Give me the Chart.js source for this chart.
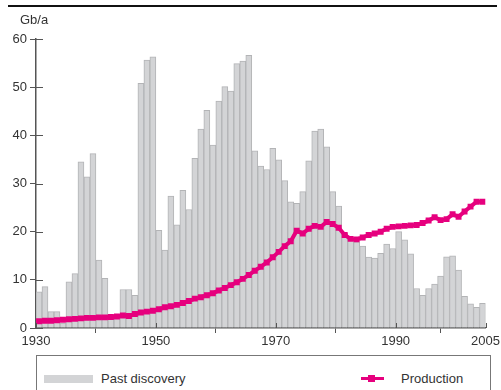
<!DOCTYPE html>
<html>
<head>
<meta charset="utf-8">
<script src="https://cdn.jsdelivr.net/npm/chart.js@4.4.1/dist/chart.umd.min.js"></script>
<style>
  body { margin: 0; background: #fff; font-family: "Liberation Sans", Arial, sans-serif; color: #333; }
  #wrap { position: relative; width: 501px; height: 390px; overflow: hidden; }
  #rule { position: absolute; left: 8px; top: 5px; width: 489px; height: 2px; background: #111; }
  #unit { position: absolute; left: 20px; top: 12px; font-size: 13px; color: #333; }
  #chartBox { position: absolute; left: 0; top: 0; width: 501px; height: 352px; }
  #legend { position: absolute; left: 36px; top: 355px; width: 455px; height: 40px; border: 1px solid #777; box-sizing: border-box; }
  .sw-bar { position: absolute; left: 7px; top: 19px; width: 49px; height: 8px; background: #d3d4d6; }
  .sw-line { position: absolute; left: 324px; top: 21px; width: 23px; height: 3px; background: #e6007e; }
  .sw-pt { position: absolute; left: 331px; top: 19px; width: 7px; height: 7px; background: #e6007e; }
  .lbl { position: absolute; top: 15px; font-size: 13px; color: #333; }
</style>
</head>
<body>
<div id="wrap">
  <div id="rule"></div>
  <div id="chartBox"><canvas id="oilChart" width="501" height="352"></canvas></div>
  <div id="unit">Gb/a</div>
  <div id="legend">
    <div class="sw-bar"></div><div class="lbl" style="left:64px">Past discovery</div>
    <div class="sw-line"></div><div class="sw-pt"></div><div class="lbl" style="left:364px">Production</div>
  </div>
</div>
<script>
  // years 1930 .. 2004, one bar / point per year
  const startYear = 1930;
  const discovery = [
    7.5, 8.6, 3.4, 3.4, 1.0, 9.6, 11.3, 34.5, 31.4, 36.2,
    14.1, 10.3, 2.0, 2.0, 8.0, 8.0, 6.8, 50.8, 55.6, 56.3,
    20.3, 16.2, 27.4, 21.4, 28.6, 24.6, 35.2, 41.3, 45.2, 38.0,
    47.1, 50.1, 49.2, 54.9, 55.4, 56.6, 36.8, 33.6, 32.9, 37.3,
    34.9, 30.6, 26.2, 25.9, 28.3, 34.7, 40.9, 41.3, 37.6, 28.3,
    25.3, 19.7, 18.3, 17.9, 17.0, 14.7, 14.5, 15.5, 17.4, 16.5,
    20.0, 18.3, 15.4, 8.2, 6.8, 8.2, 9.1, 10.8, 14.8, 15.0,
    12.0, 6.6, 5.0, 4.3, 5.1
  ];
  const production = [
    1.4, 1.5, 1.5, 1.6, 1.7, 1.8, 1.9, 2.0, 2.1, 2.1,
    2.2, 2.2, 2.3, 2.4, 2.6, 2.5, 2.9, 3.2, 3.4, 3.6,
    3.9, 4.3, 4.5, 4.8, 5.2, 5.6, 6.1, 6.4, 6.8, 7.2,
    7.8, 8.3, 8.9, 9.5, 10.2, 11.0, 11.9, 12.7, 13.6, 14.7,
    15.8, 17.0, 18.0, 20.2, 19.6, 20.6, 21.2, 21.0, 22.0, 21.6,
    20.8, 19.3, 18.5, 18.4, 18.8, 19.3, 19.6, 20.0, 20.6, 21.0,
    21.1, 21.2, 21.3, 21.4, 21.8, 22.3, 23.0, 22.4, 22.6, 23.6,
    23.1, 24.2, 25.2, 26.2, 26.2
  ];
  const xTickYears = [1930, 1950, 1970, 1990, 2005];
  const yMax = 60;
  const yStep = 10;

  const axisColor = "#555";
  const textColor = "#333";

  // bars sit between year Y and Y+1
  const discoveryPts = discovery.map((v, i) => ({ x: startYear + i + 0.5, y: v }));
  const productionPts = production.map((v, i) => ({ x: startYear + i + 0.5, y: v }));

  // short tick marks on the inner side of both axes
  const innerTicks = {
    id: "innerTicks",
    afterDraw(chart) {
      const ctx = chart.ctx;
      const xs = chart.scales.x, ys = chart.scales.y;
      ctx.save();
      ctx.strokeStyle = axisColor;
      ctx.lineWidth = 1;
      ys.ticks.forEach((t) => {
        const py = Math.round(ys.getPixelForValue(t.value)) + 0.5;
        ctx.beginPath();
        ctx.moveTo(xs.left, py);
        ctx.lineTo(xs.left + 7, py);
        ctx.stroke();
      });
      xs.ticks.forEach((t) => {
        const px = Math.round(xs.getPixelForValue(t.value)) + 0.5;
        ctx.beginPath();
        ctx.moveTo(px, ys.bottom);
        ctx.lineTo(px, ys.bottom - 5);
        ctx.stroke();
      });
      ctx.restore();
    },
  };

  new Chart(document.getElementById("oilChart"), {
    type: "bar",
    data: {
      datasets: [
        {
          type: "line",
          label: "Production",
          data: productionPts,
          borderColor: "#e6007e",
          backgroundColor: "#e6007e",
          borderWidth: 4,
          pointStyle: "rect",
          pointRadius: 4.2,
          pointBorderWidth: 0,
          tension: 0,
          order: 0,
        },
        {
          label: "Past discovery",
          data: discoveryPts,
          backgroundColor: "#d3d4d6",
          borderColor: "#b3b4b6",
          borderWidth: 1,
          barPercentage: 1,
          categoryPercentage: 1,
          order: 1,
        },
      ],
    },
    options: {
      responsive: false,
      animation: false,
      layout: { padding: { top: 39, right: 14, left: 0, bottom: 0 } },
      plugins: {
        legend: { display: false },
        tooltip: { enabled: false },
      },
      scales: {
        x: {
          type: "linear",
          min: startYear,
          max: xTickYears[xTickYears.length - 1],
          offset: false,
          afterBuildTicks: (scale) => {
            scale.ticks = xTickYears.map((v) => ({ value: v }));
          },
          afterFit: (scale) => { scale.height = 24; },
          ticks: {
            autoSkip: false,
            maxRotation: 0,
            color: textColor,
            font: { family: "Liberation Sans", size: 13 },
            padding: 1,
            callback: (v) => String(v),
          },
          grid: { drawOnChartArea: false, color: axisColor, tickLength: 5 },
          border: { color: axisColor, width: 1.5 },
        },
        y: {
          min: 0,
          max: yMax,
          afterFit: (scale) => { scale.width = 36; },
          ticks: {
            stepSize: yStep,
            color: textColor,
            font: { family: "Liberation Sans", size: 13 },
            padding: 3,
          },
          grid: { drawOnChartArea: false, color: axisColor, tickLength: 6 },
          border: { color: axisColor, width: 1.5 },
        },
      },
    },
    plugins: [innerTicks],
  });
</script>
</body>
</html>
